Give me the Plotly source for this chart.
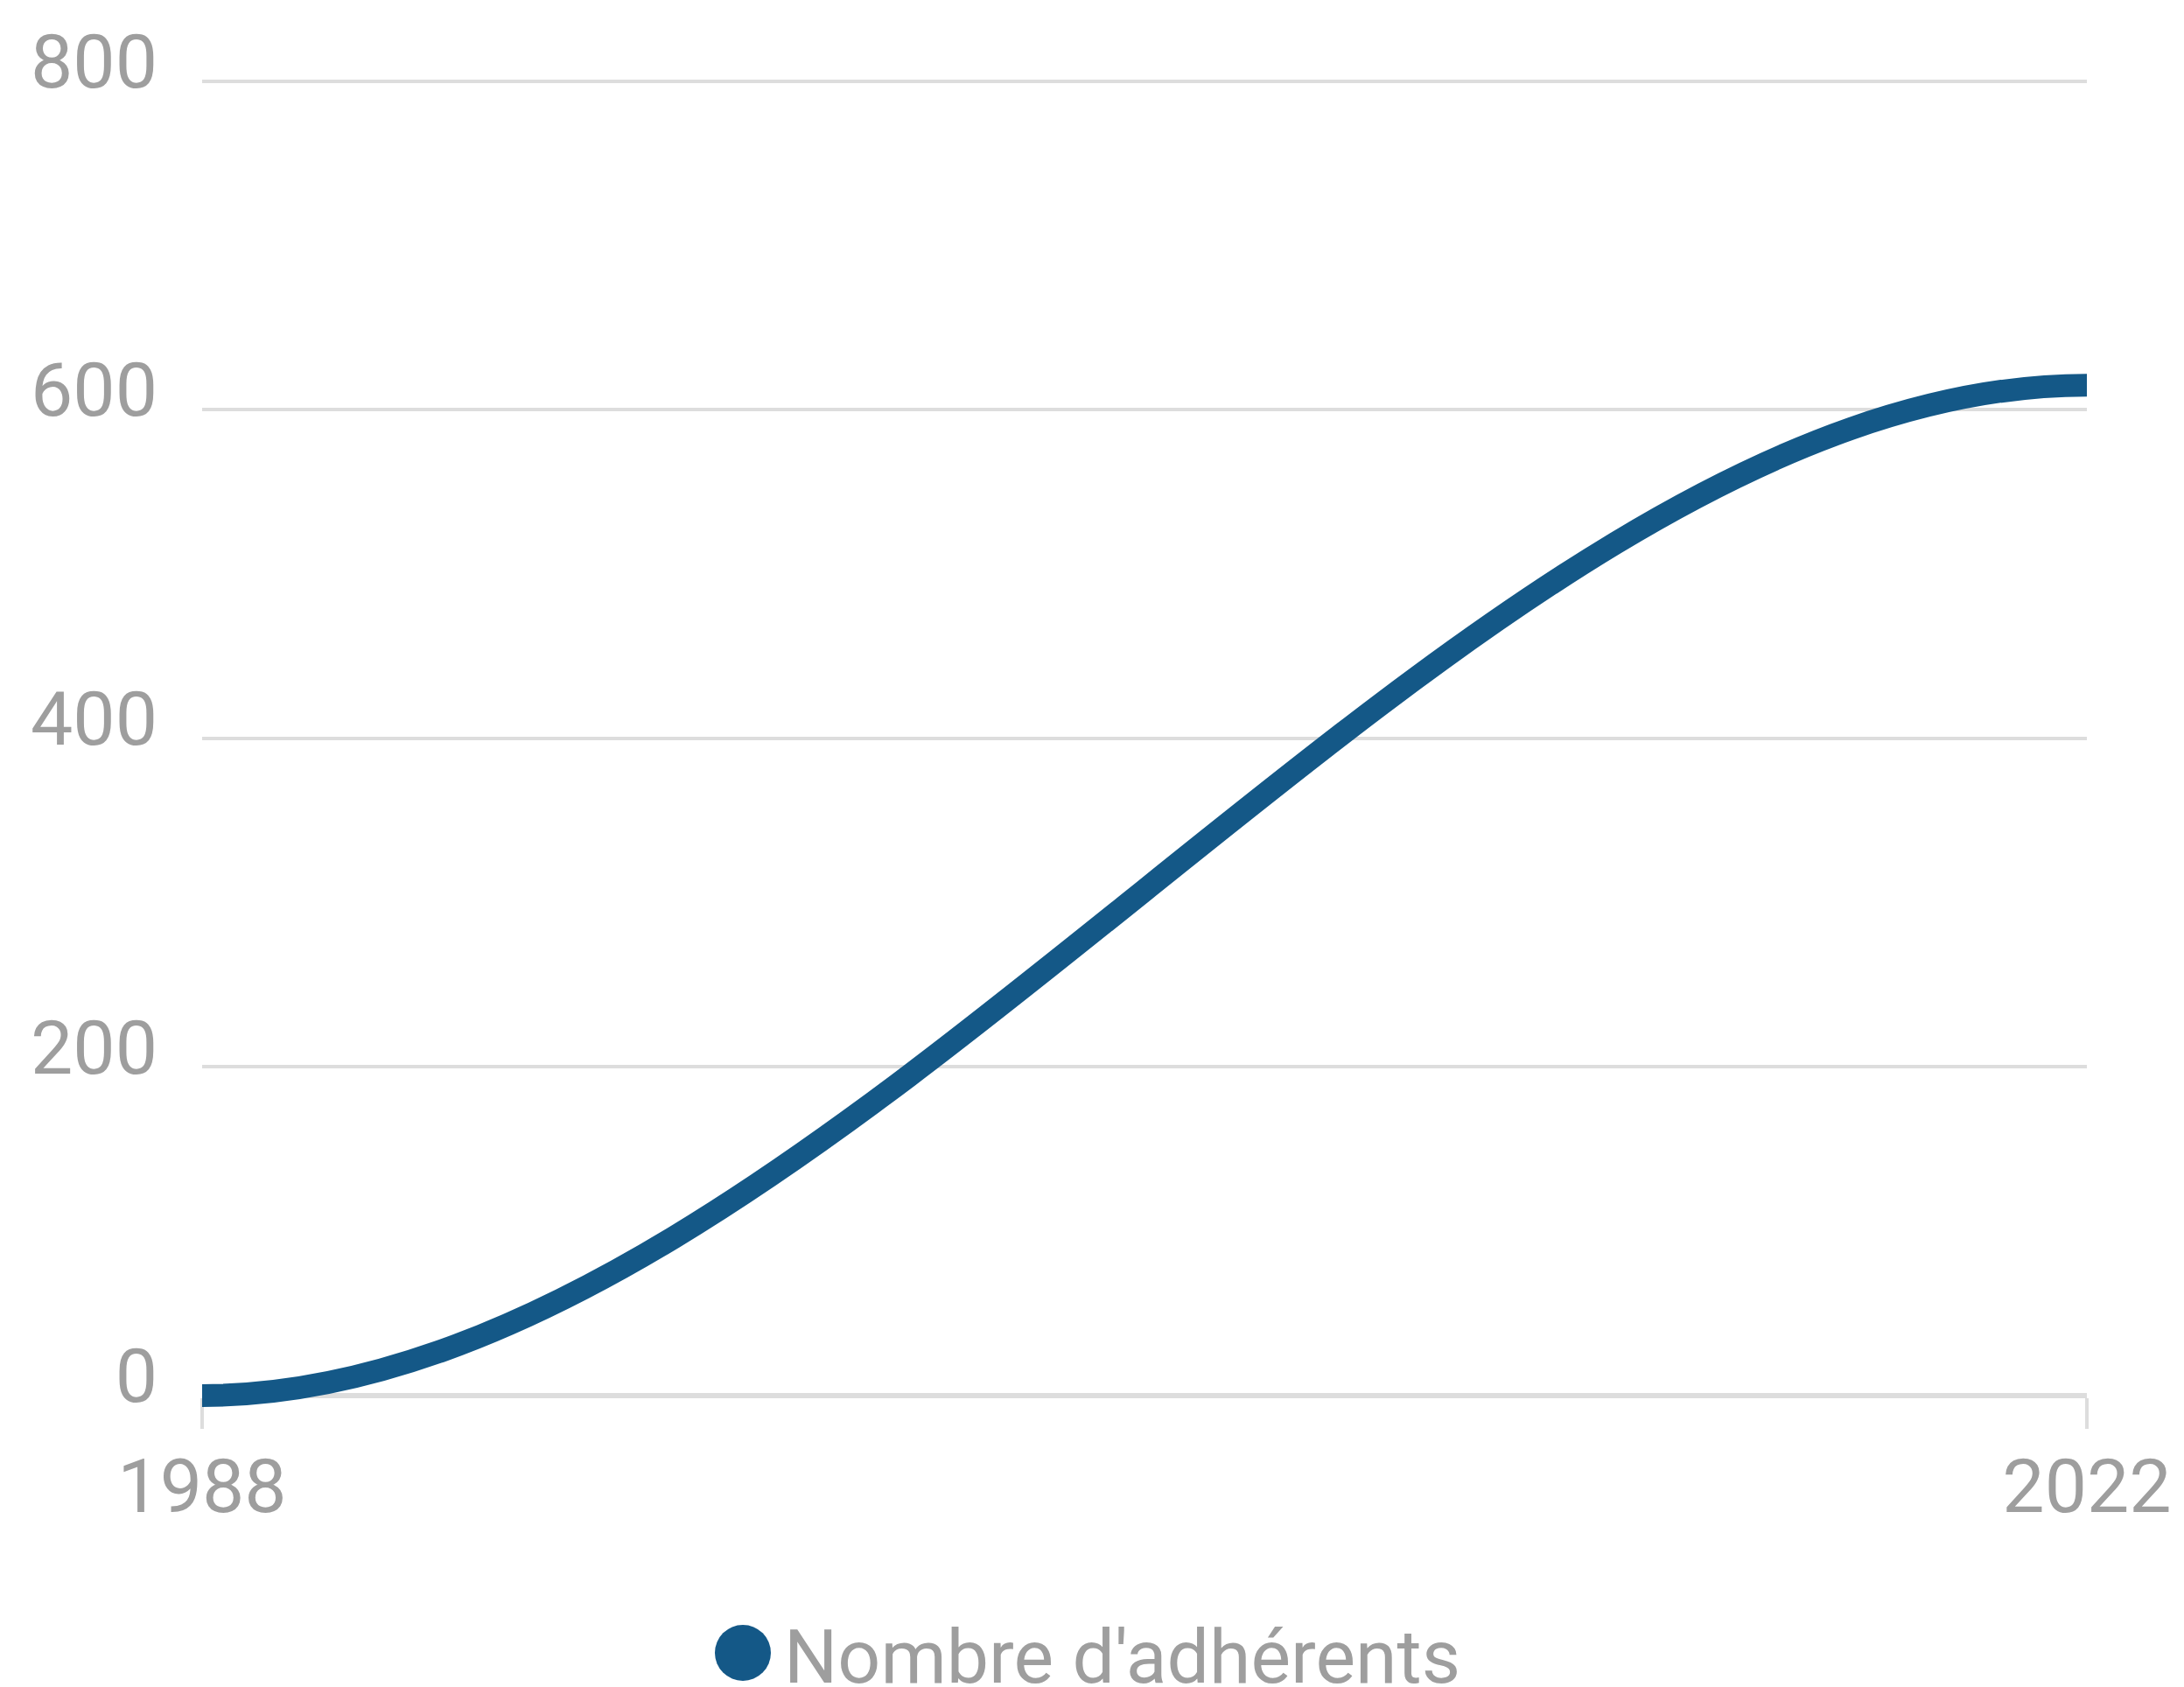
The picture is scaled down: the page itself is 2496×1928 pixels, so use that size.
import plotly.graph_objects as go

# Data
years = [1988, 2022]
members = [0, 615]
series_name = "Nombre d'adhérents"
y_ticks = [0, 200, 400, 600, 800]
x_ticks = [1988, 2022]

LINE_COLOR = "#145887"
GRID_COLOR = "#dddddd"
TEXT_COLOR = "#9e9e9e"
FONT = "Roboto"

y_min, y_max = -8, 802

fig = go.Figure()

# data trace (invisible carrier of the series)
fig.add_trace(go.Scatter(
    x=years, y=members, mode="lines", name=series_name,
    line=dict(color=LINE_COLOR, width=0), showlegend=False, hoverinfo="x+y",
))

# smooth curve through the data points (cubic Hermite, flat ends), drawn in data coords
x0, x1 = years[0], years[-1]
y0, y1 = members[0], members[-1]
dx = x1 - x0
path = f"M {x0},{y0} C {x0 + dx / 3},{y0} {x1 - dx / 3},{y1} {x1},{y1}"
fig.add_shape(type="path", path=path, xref="x", yref="y",
              line=dict(color=LINE_COLOR, width=26), layer="above")

# custom legend
fig.add_shape(type="circle", xref="paper", yref="paper",
              xsizemode="pixel", ysizemode="pixel",
              xanchor=0.2869, yanchor=-0.1834,
              x0=-32, x1=32, y0=-32, y1=32,
              fillcolor=LINE_COLOR, line=dict(width=0))
fig.add_annotation(text=series_name, xref="paper", yref="paper",
                   x=0.3078, y=-0.1867, xanchor="left", yanchor="middle",
                   showarrow=False, font=dict(family=FONT, size=86, color=TEXT_COLOR))

fig.update_layout(
    width=2488, height=1920,
    margin=dict(l=223, r=111, t=70, b=318),
    paper_bgcolor="white", plot_bgcolor="white",
    font=dict(family=FONT, size=86, color=TEXT_COLOR),
    showlegend=False,
    xaxis=dict(
        range=[x0, x1], tickvals=x_ticks, ticktext=[str(v) for v in x_ticks],
        showgrid=False, zeroline=False,
        anchor="free", position=(0 - y_min) / (y_max - y_min),
        showline=True, linecolor=GRID_COLOR, linewidth=6,
        ticks="outside", ticklen=35, tickwidth=4, tickcolor=GRID_COLOR,
        tickfont=dict(family=FONT, size=86, color=TEXT_COLOR),
        ticklabelstandoff=-8,
    ),
    yaxis=dict(
        range=[y_min, y_max], tickvals=y_ticks,
        showgrid=True, gridcolor=GRID_COLOR, gridwidth=4,
        zeroline=False, showline=False, ticks="",
        tickfont=dict(family=FONT, size=86, color=TEXT_COLOR),
        ticklabelstandoff=50, ticklabelshift=-23,
    ),
)

fig.write_html("out.html")
